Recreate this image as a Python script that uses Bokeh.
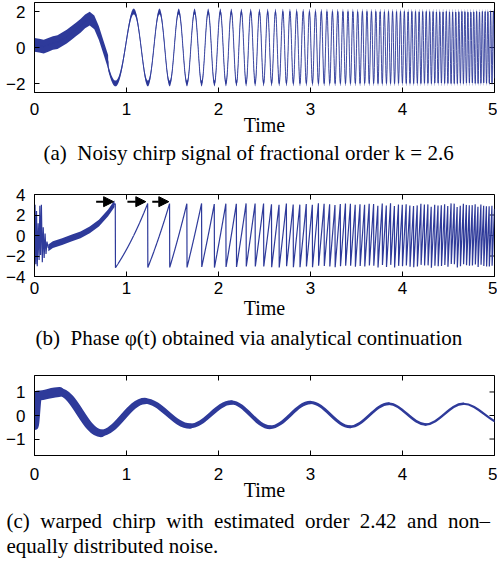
import numpy as np
from bokeh.plotting import figure
from bokeh.models import Range1d, FixedTicker, Title, Arrow, NormalHead, ColumnDataSource
from bokeh.layouts import column
from bokeh.embed import file_html
from bokeh.resources import INLINE

BLUE = "#2E3A9A"

# ---------------- data ----------------
time_ticks = [0, 1, 2, 3, 4, 5]
a_ticks = [-2, 0, 2]
b_ticks = [-4, -2, 0, 2, 4]
c_ticks = [-1, 0, 1]

a_early_t = [0.0, 0.05, 0.1, 0.15, 0.2, 0.25, 0.3, 0.35, 0.4, 0.45, 0.5, 0.55, 0.6,
             0.65, 0.7, 0.75, 0.8]
a_early_v = [0.15, 0.1, 0.05, 0.15, 0.25, 0.3, 0.45, 0.6, 0.8, 1.0, 1.2, 1.45, 1.6,
             1.4, 0.8, 0.0, -0.8]
chirp_order = 2.6
chirp_rate = 6.28
chirp_offset = -1.36
chirp_amplitude = 2.0
noise_a_early = 0.38
noise_a_late = 0.16
sample_count = 2501

start_t = [0.0, 0.006, 0.014, 0.022, 0.03, 0.04, 0.05, 0.058, 0.066, 0.075,
           0.085, 0.095, 0.105, 0.115, 0.125, 0.135]
start_phase = [-2.6, 3.0, -2.8, 2.4, -3.0, 1.2, -2.4, 2.9, -1.9, 3.0,
               -2.6, 0.8, -2.2, 0.2, -1.8, -0.6]
b_early_t = [0.15, 0.2, 0.3, 0.4, 0.5, 0.6, 0.7, 0.8, 0.87]
b_early_v = [-1.2, -0.9, -0.6, -0.25, 0.05, 0.55, 1.2, 2.2, 3.1]
noise_b_early = 0.33
arrow_start = [0.67, 1.01, 1.28]
arrow_end = [0.86, 1.21, 1.46]
arrow_level = [3.3, 3.3, 3.3]

# panel (c): extrema of the warped chirp
c_ext_t = [0.0, 0.04, 0.27, 0.72, 1.2, 1.69, 2.14, 2.56, 3.0, 3.43, 3.85, 4.25, 4.66, 5.12]
c_ext_v = [-0.45, 0.85, 1.0, -0.75, 0.62, -0.45, 0.55, -0.5, 0.55, -0.48, 0.5, -0.38, 0.5, -0.38]
c_noise_px = [8, 10, 8, 6.5, 5.5, 4.5, 4, 3.5, 3, 2.8, 2.6, 2.4, 2.2]

caption_a = "(a)\u00a0\u00a0Noisy chirp signal of fractional order k = 2.6"
caption_b = "(b)\u00a0\u00a0Phase \u03c6(t) obtained via analytical continuation"
caption_c1_words = ["(c)", "warped", "chirp", "with", "estimated", "order", "2.42", "and", "non\u2013"]
caption_c2 = "equally distributed noise."


def make_panel(height, y_lo, y_hi, y_ticks, top, bottom, tick_standoff, label_standoff):
    p = figure(width=497, height=height, x_range=Range1d(0, 5), y_range=Range1d(y_lo, y_hi),
               output_backend="svg", toolbar_location=None,
               min_border_left=34, min_border_right=3, min_border_top=top, min_border_bottom=bottom)
    p.background_fill_color = "white"
    p.border_fill_color = "white"
    p.grid.visible = False
    p.outline_line_color = "black"
    p.outline_line_width = 1
    p.xaxis.ticker = FixedTicker(ticks=time_ticks)
    p.yaxis.ticker = FixedTicker(ticks=y_ticks)
    for ax in (p.xaxis[0], p.yaxis[0]):
        ax.major_tick_in = 5
        ax.major_tick_out = 0
        ax.minor_tick_line_color = None
        ax.major_label_text_font = "Liberation Sans"
        ax.major_label_text_font_size = "17px"
        ax.major_label_text_color = "black"
        ax.axis_line_color = "black"
        ax.major_tick_line_color = "black"
    p.xaxis.major_label_standoff = tick_standoff
    p.yaxis.major_label_standoff = 9
    p.xaxis.axis_label = "Time"
    p.xaxis.axis_label_text_font = "Liberation Serif"
    p.xaxis.axis_label_text_font_style = "normal"
    p.xaxis.axis_label_text_font_size = "20px"
    p.xaxis.axis_label_text_color = "black"
    p.xaxis.axis_label_standoff = label_standoff
    # inward ticks on the top and right edges of the box
    p.ray(x=time_ticks, y=[y_hi] * len(time_ticks), length=5, length_units="screen",
          angle=-np.pi / 2, line_color="black", line_width=1)
    p.ray(x=[5] * len(y_ticks), y=y_ticks, length=5, length_units="screen",
          angle=np.pi, line_color="black", line_width=1)
    return p


def add_caption(p, text, standoff, offset, line_height=1.2):
    t = Title(text=text, align="left", offset=offset, standoff=standoff,
              text_font="Liberation Serif", text_font_size="21px",
              text_font_style="normal", text_color="black", text_line_height=line_height)
    p.add_layout(t, "below")


t = np.linspace(0, 5, sample_count)
phase = chirp_rate * t ** chirp_order + chirp_offset

# ---------------- panel (a) ----------------
pa = make_panel(178, -2.5, 2.5, a_ticks, 2, 86, 10, -4)
late = t > a_early_t[-1]
sig_late = chirp_amplitude * np.cos(phase[late])
xa = np.concatenate([np.array(a_early_t), t[late]])
ya = np.concatenate([np.array(a_early_v), sig_late])
wa = np.concatenate([np.full(len(a_early_t), noise_a_early), np.full(late.sum(), noise_a_late)])
pa.varea(x=xa, y1=ya - wa, y2=ya + wa, fill_color=BLUE, fill_alpha=1.0)
pa.line(xa, ya, line_color=BLUE, line_width=0.9)
add_caption(pa, caption_a, 0, 9)

# ---------------- panel (b) ----------------
pb = make_panel(182, -4, 4, b_ticks, 16, 84, 5, 0)
wrapped = np.mod(phase + np.pi, 2 * np.pi) - np.pi
keep = t > b_early_t[-1] + 0.005
xb = np.concatenate([np.array(start_t), np.array(b_early_t), t[keep]])
yb = np.concatenate([np.array(start_phase), np.array(b_early_v), wrapped[keep]])
be_t = np.array(b_early_t); be_v = np.array(b_early_v)
pb.varea(x=be_t, y1=be_v - noise_b_early, y2=be_v + noise_b_early, fill_color=BLUE, fill_alpha=1.0)
pb.line(xb, yb, line_color=BLUE, line_width=1.2)
for xs, xe, yl in zip(arrow_start, arrow_end, arrow_level):
    pb.add_layout(Arrow(end=NormalHead(size=10, fill_color="black", line_color="black"),
                        x_start=xs, y_start=yl, x_end=xe, y_end=yl,
                        line_width=2, line_color="black"))
add_caption(pb, caption_b, 5, 1)

# ---------------- panel (c) ----------------
pc = make_panel(202, -1.7, 1.7, c_ticks, 15, 101, 12, -4)
x0 = np.array(c_ext_t[:-1]); x1 = np.array(c_ext_t[1:])
y0 = np.array(c_ext_v[:-1]); y1 = np.array(c_ext_v[1:])
dx = x1 - x0
src_c = ColumnDataSource(dict(x0=x0, y0=y0, x1=x1, y1=y1,
                              cx0=x0 + 0.36 * dx, cy0=y0, cx1=x1 - 0.36 * dx, cy1=y1,
                              w=c_noise_px))
pc.bezier(x0="x0", y0="y0", x1="x1", y1="y1", cx0="cx0", cy0="cy0", cx1="cx1", cy1="cy1",
          source=src_c, line_color=BLUE, line_width="w", line_cap="round")
caption_c = "\u00a0\u00a0".join(caption_c1_words) + "\n" + caption_c2
add_caption(pc, caption_c, 8, -28, line_height=1.05)

layout = column(pa, pb, pc)
open("out.html", "w").write(file_html(layout, INLINE, "chirp"))
